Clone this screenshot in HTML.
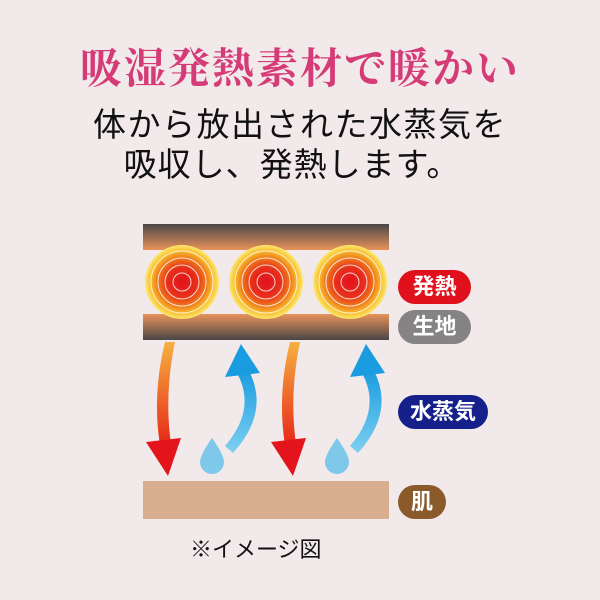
<!DOCTYPE html><html><head><meta charset="utf-8"><style>
body{margin:0;width:600px;height:600px;background:#f2e9ea;overflow:hidden;position:relative}
.t{position:absolute;left:0;width:600px;text-align:center;white-space:nowrap}
.lb{position:absolute;left:398px;height:34px;border-radius:17px;color:#fff;font:bold 22px "Liberation Sans","Noto Sans CJK JP",sans-serif;line-height:34px;text-align:center}
</style></head><body>
<div class="t" style="top:36px;font:bold 42px 'Liberation Serif','Noto Serif CJK SC',serif;color:#d53b77;letter-spacing:2px">吸湿発熱素材で暖かい</div>
<div class="t" style="top:98px;font:33px 'Liberation Sans','Noto Sans CJK JP',sans-serif;color:#111;letter-spacing:1.5px">体から放出された水蒸気を</div>
<div class="t" style="top:138px;font:33px 'Liberation Sans','Noto Sans CJK JP',sans-serif;color:#111;letter-spacing:1px;left:-8px">吸収し、発熱します。</div>
<svg width="600" height="600" style="position:absolute;left:0;top:0">
<defs>
<linearGradient id="tb" x1="0" y1="0" x2="0" y2="1"><stop offset="0" stop-color="#4a4646"/><stop offset="1" stop-color="#e8925a"/></linearGradient>
<linearGradient id="bb" x1="0" y1="0" x2="0" y2="1"><stop offset="0" stop-color="#e8925a"/><stop offset="1" stop-color="#4a4646"/></linearGradient>
<radialGradient id="c"><stop offset="0" stop-color="#e0101c"/><stop offset="0.4" stop-color="#e8301c"/><stop offset="0.68" stop-color="#f0801c"/><stop offset="0.85" stop-color="#f8c030"/><stop offset="1" stop-color="#fbe870"/></radialGradient>
<linearGradient id="og" x1="0" y1="0" x2="0" y2="1"><stop offset="0" stop-color="#f6b040"/><stop offset="1" stop-color="#e82818"/></linearGradient>
<linearGradient id="bg" x1="0" y1="1" x2="0" y2="0"><stop offset="0" stop-color="#7ed0f0"/><stop offset="1" stop-color="#1a9ce0"/></linearGradient>
<g id="circ"><circle r="37" fill="url(#c)"/><g fill="none" stroke="#fff" stroke-width="1" opacity="0.8"><circle r="31"/><circle r="24"/><circle r="17"/><circle r="9"/></g></g>
</defs>
<rect x="143" y="224" width="246" height="26" fill="url(#tb)"/>
<rect x="143" y="314" width="246" height="26" fill="url(#bb)"/>
<use href="#circ" x="182" y="282"/><use href="#circ" x="266" y="282"/><use href="#circ" x="350" y="282"/>
<rect x="143" y="481" width="246" height="38" fill="#d8ae90"/>
<g id="oa"><path d="M165 342 Q152 395 160 445 L171 444 Q164 395 175 342 Z" fill="url(#og)"/><path d="M146 442 L181 438 L168 476 Z" fill="#e4141c"/></g>
<use href="#oa" x="125"/>
<g id="ba"><path d="M225 446 Q256 410 238 375 L249 371 Q270 412 233 453 Z" fill="url(#bg)"/><path d="M225 377 L260 373 L241 344 Z" fill="#1a9ce0"/>
<path d="M212 438 Q200 455 200 462 A12 12 0 0 0 224 462 Q224 455 212 438 Z" fill="#7ec8ea"/></g>
<use href="#ba" x="125"/>
</svg>
<div class="lb" style="top:270px;width:73px;background:#e0101c">発熱</div>
<div class="lb" style="top:310px;width:73px;background:#858383">生地</div>
<div class="lb" style="top:395px;width:90px;background:#15208a">水蒸気</div>
<div class="lb" style="top:485px;width:48px;background:#8b5a2b">肌</div>
<div style="position:absolute;left:190px;top:532px;font:22px 'Liberation Sans','Noto Sans CJK JP',sans-serif;color:#111">※イメージ図</div>
</body></html>
